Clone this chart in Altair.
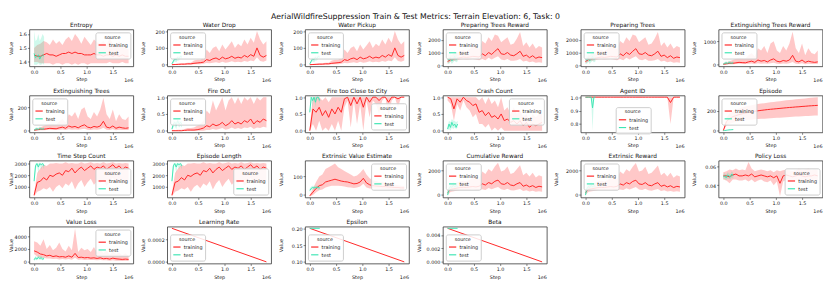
import altair as alt
import pandas as pd

FONT = "DejaVu Sans"
RED = "#ff2424"
TEAL = "#3ee6b4"
W, H = 107, 38
XDOM = [-0.09, 1.89]
SOURCES = ["training", "test"]

# ---------------- data (steps in units of 1e6) ----------------
STEP_TRAIN = [0.0, 0.06, 0.12, 0.18, 0.24, 0.30, 0.36, 0.42, 0.48, 0.54, 0.60, 0.66, 0.72, 0.78, 0.84, 0.90,
              0.96, 1.02, 1.08, 1.14, 1.20, 1.26, 1.32, 1.38, 1.44, 1.50, 1.56, 1.62, 1.68, 1.74, 1.80]
STEP_TEST = [0.0, 0.027, 0.054, 0.081, 0.108, 0.135, 0.162, 0.19]
STEP_LIN = [0.0, 1.8]
STEP_TEST_LIN = [0.0, 0.19]

ENT_TR = [1.45, 1.44, 1.44, 1.45, 1.46, 1.45, 1.45, 1.44, 1.45, 1.46, 1.46, 1.47, 1.46, 1.47, 1.46, 1.46, 1.45, 1.45, 1.45, 1.46, 1.45, 1.45, 1.44, 1.45, 1.45, 1.44, 1.45, 1.44, 1.45, 1.44, 1.44]
ENT_TR_LO = [1.40, 1.40, 1.39, 1.39, 1.39, 1.39, 1.38, 1.39, 1.39, 1.38, 1.39, 1.39, 1.38, 1.39, 1.38, 1.39, 1.39, 1.38, 1.39, 1.39, 1.39, 1.39, 1.39, 1.39, 1.40, 1.39, 1.39, 1.39, 1.40, 1.39, 1.39]
ENT_TR_HI = [1.50, 1.52, 1.53, 1.55, 1.54, 1.52, 1.56, 1.53, 1.55, 1.52, 1.56, 1.58, 1.55, 1.60, 1.57, 1.53, 1.58, 1.55, 1.52, 1.56, 1.54, 1.53, 1.55, 1.52, 1.57, 1.53, 1.50, 1.55, 1.51, 1.50, 1.49]
ENT_TE = [1.46, 1.43, 1.44, 1.45, 1.42, 1.44, 1.45, 1.44]
ENT_TE_LO = [1.38, 1.38, 1.38, 1.39, 1.38, 1.38, 1.39, 1.38]
ENT_TE_HI = [1.62, 1.55, 1.56, 1.60, 1.55, 1.57, 1.60, 1.58]

WATER_TR = [0, 1, 2, 3, 3, 5, 5, 8, 10, 12, 15, 30, 25, 35, 40, 30, 45, 35, 40, 50, 38, 45, 40, 55, 45, 60, 50, 100, 55, 45, 55]
WATER_TR_LO = [0, 0, 0, 0, 0, 0, 0, 2, 3, 3, 5, 10, 8, 12, 15, 10, 18, 12, 15, 20, 15, 18, 15, 22, 18, 25, 20, 45, 22, 18, 25]
WATER_TR_HI = [3, 4, 6, 8, 8, 12, 12, 25, 30, 30, 40, 90, 70, 100, 110, 80, 120, 90, 115, 140, 100, 125, 110, 150, 120, 160, 130, 200, 150, 120, 140]
WATER_TE = [5, 20, 35, 30, 45, 35, 50, 45]
WATER_TE_LO = [0, 10, 20, 15, 25, 25, 35, 35]
WATER_TE_HI = [10, 30, 45, 45, 55, 50, 60, 55]

PREP_TR = [300, 450, 500, 550, 600, 650, 620, 650, 700, 680, 650, 900, 750, 1000, 850, 1100, 1300, 900, 850, 1000, 800, 750, 900, 1100, 700, 800, 600, 750, 550, 650, 600]
PREP_TR_LO = [150, 300, 350, 400, 450, 480, 450, 480, 500, 450, 400, 500, 400, 600, 450, 600, 700, 450, 400, 500, 350, 350, 400, 500, 300, 350, 250, 300, 200, 250, 200]
PREP_TR_HI = [500, 800, 900, 1000, 1100, 1200, 1100, 1300, 1500, 1400, 1300, 1900, 1700, 2200, 1900, 2400, 2300, 1800, 2000, 2200, 1600, 1700, 2100, 2600, 1500, 1800, 1400, 1700, 1300, 1500, 1400]
PREP_TE = [500, 400, 600, 350, 500, 700, 450, 600]
PREP_TE_LO = [150, 100, 300, 100, 250, 350, 250, 300]
PREP_TE_HI = [900, 800, 1000, 700, 900, 1200, 900, 1000]

EXTR_TR = [20, 40, 60, 60, 80, 100, 90, 80, 120, 150, 100, 200, 150, 180, 120, 200, 250, 150, 120, 180, 150, 200, 400, 150, 120, 200, 100, 150, 120, 100, 120]
EXTR_TR_LO = [0, 10, 20, 20, 30, 40, 30, 30, 40, 50, 30, 60, 40, 50, 40, 60, 80, 40, 30, 50, 40, 60, 120, 40, 30, 60, 20, 40, 30, 30, 30]
EXTR_TR_HI = [60, 100, 150, 200, 250, 300, 280, 250, 400, 500, 350, 700, 600, 800, 500, 900, 1000, 600, 500, 800, 600, 900, 1400, 700, 500, 900, 400, 700, 500, 450, 600]
EXTR_TE = [20, 60, 80, 50, 90, 70, 60, 80]
EXTR_TE_LO = [0, 20, 30, 20, 40, 30, 30, 30]
EXTR_TE_HI = [50, 120, 150, 100, 180, 140, 120, 160]

EXT_TR = [4, 8, 12, 12, 16, 20, 18, 16, 24, 30, 20, 40, 30, 36, 24, 40, 50, 30, 24, 36, 30, 40, 80, 30, 24, 40, 20, 30, 24, 20, 24]
EXT_TR_LO = [0, 2, 4, 4, 6, 8, 6, 6, 8, 10, 6, 12, 8, 10, 8, 12, 16, 8, 6, 10, 8, 12, 24, 8, 6, 12, 4, 8, 6, 6, 6]
EXT_TR_HI = [12, 20, 30, 40, 50, 60, 56, 50, 80, 100, 70, 140, 120, 160, 100, 180, 200, 120, 100, 160, 120, 180, 280, 140, 100, 180, 80, 140, 100, 90, 120]
EXT_TE = [4, 12, 16, 10, 18, 14, 12, 16]
EXT_TE_LO = [0, 4, 6, 4, 8, 6, 6, 6]
EXT_TE_HI = [10, 24, 30, 20, 36, 28, 24, 32]

FIRE_TR = [0, 0, 0, 0, 0.01, 0.02, 0.02, 0.02, 0.03, 0.05, 0.08, 0.15, 0.12, 0.2, 0.15, 0.18, 0.25, 0.15, 0.2, 0.3, 0.2, 0.25, 0.2, 0.3, 0.25, 0.35, 0.2, 0.3, 0.25, 0.35, 0.3]
FIRE_TR_LO = [0, 0, 0, 0, 0, 0, 0, 0, 0, 0, 0, 0.02, 0.02, 0.05, 0.03, 0.05, 0.08, 0.03, 0.05, 0.1, 0.05, 0.08, 0.05, 0.1, 0.08, 0.12, 0.05, 0.1, 0.08, 0.12, 0.1]
FIRE_TR_HI = [0.02, 0.02, 0.03, 0.03, 0.05, 0.08, 0.08, 0.1, 0.15, 0.2, 0.3, 0.6, 0.5, 0.9, 0.6, 0.8, 1.0, 0.6, 0.9, 1.0, 0.8, 1.0, 0.8, 1.0, 0.9, 1.0, 0.8, 1.0, 0.9, 1.0, 1.0]
FIRE_TE = [0.05, 0.2, 0.25, 0.15, 0.3, 0.2, 0.25, 0.2]
FIRE_TE_LO = [0, 0.1, 0.15, 0.05, 0.2, 0.1, 0.15, 0.1]
FIRE_TE_HI = [0.1, 0.3, 0.3, 0.25, 0.35, 0.3, 0.3, 0.3]

CITY_TR = [0.0, 0.65, 0.55, 0.7, 0.45, 0.6, 0.4, 0.65, 0.5, 0.7, 0.55, 0.95, 1.0, 0.75, 1.0, 0.8, 1.0, 0.7, 1.0, 0.85, 1.0, 1.0, 0.9, 1.0, 1.0, 0.85, 1.0, 1.0, 0.95, 1.0, 1.0]
CITY_TR_LO = [0.0, 0.2, 0.0, 0.3, 0.0, 0.1, 0.0, 0.2, 0.0, 0.3, 0.0, 0.7, 0.9, 0.1, 0.9, 0.2, 0.8, 0.0, 0.9, 0.4, 0.9, 0.8, 0.5, 0.9, 1.0, 0.4, 0.9, 1.0, 0.7, 1.0, 1.0]
CITY_TR_HI = [0.1, 1.0, 1.0, 1.0, 0.9, 1.0, 0.85, 1.0, 1.0, 1.0, 1.0, 1.0, 1.0, 1.0, 1.0, 1.0, 1.0, 1.0, 1.0, 1.0, 1.0, 1.0, 1.0, 1.0, 1.0, 1.0, 1.0, 1.0, 1.0, 1.0, 1.0]
CITY_TE = [0.55, 1.0, 0.9, 1.0, 0.85, 1.0, 1.0, 0.9]
CITY_TE_LO = [0.5, 0.9, 0.7, 1.0, 0.7, 1.0, 0.9, 0.8]
CITY_TE_HI = [0.6, 1.0, 1.0, 1.0, 1.0, 1.0, 1.0, 1.0]

CRASH_TR = [1.0, 0.95, 0.65, 0.95, 0.85, 1.0, 0.9, 0.85, 0.75, 0.8, 0.55, 0.6, 0.45, 0.55, 0.4, 0.45, 0.35, 0.5, 0.3, 0.35, 0.25, 0.3, 0.2, 0.3, 0.15, 0.25, 0.1, 0.2, 0.15, 0.2, 0.25]
CRASH_TR_LO = [0.9, 0.8, 0.3, 0.8, 0.6, 0.9, 0.7, 0.6, 0.4, 0.5, 0.2, 0.2, 0.1, 0.2, 0.0, 0.1, 0.0, 0.1, 0.0, 0.0, 0.0, 0.0, 0.0, 0.0, 0.0, 0.0, 0.0, 0.0, 0.0, 0.0, 0.0]
CRASH_TR_HI = [1.0, 1.0, 1.0, 1.0, 1.0, 1.0, 1.0, 1.0, 1.0, 1.0, 0.9, 1.0, 0.8, 1.0, 0.8, 0.9, 0.7, 1.0, 0.6, 0.7, 0.5, 0.7, 0.5, 0.6, 0.4, 0.5, 0.3, 0.5, 0.4, 0.5, 0.5]
CRASH_TE = [0.05, 0.2, 0.1, 0.25, 0.15, 0.2, 0.1, 0.2]
CRASH_TE_LO = [0.0, 0.05, 0.0, 0.1, 0.05, 0.1, 0.05, 0.1]
CRASH_TE_HI = [0.15, 0.3, 0.25, 0.35, 0.3, 0.3, 0.25, 0.3]

AGENT_TR = [1.0, 1.0, 1.0, 1.0, 1.0, 1.0, 1.0, 1.0, 1.0, 1.0, 1.0, 1.0, 1.0, 1.0, 1.0, 1.0, 1.0, 1.0, 1.0, 1.0, 1.0, 1.0, 1.0, 1.0, 1.0, 1.0, 1.0, 0.96, 1.0, 1.0, 1.0]
AGENT_TR_LO = [1.0, 1.0, 1.0, 1.0, 1.0, 1.0, 1.0, 1.0, 1.0, 1.0, 1.0, 1.0, 1.0, 1.0, 1.0, 1.0, 1.0, 1.0, 1.0, 1.0, 1.0, 1.0, 1.0, 1.0, 1.0, 1.0, 1.0, 0.80, 1.0, 1.0, 1.0]
AGENT_TR_HI = [1.0, 1.0, 1.0, 1.0, 1.0, 1.0, 1.0, 1.0, 1.0, 1.0, 1.0, 1.0, 1.0, 1.0, 1.0, 1.0, 1.0, 1.0, 1.0, 1.0, 1.0, 1.0, 1.0, 1.0, 1.0, 1.0, 1.0, 1.0, 1.0, 1.0, 1.0]
AGENT_TE = [1.0, 1.0, 1.0, 1.0, 1.0, 0.92, 1.0, 1.0]
AGENT_TE_LO = [1.0, 1.0, 1.0, 1.0, 1.0, 0.75, 1.0, 1.0]
AGENT_TE_HI = [1.0, 1.0, 1.0, 1.0, 1.0, 1.0, 1.0, 1.0]

EPI_TR = [0, 90, 120, 140, 150, 160, 168, 175, 182, 188, 193, 198, 202, 206, 210, 213, 216, 219, 222, 225, 228, 231, 233, 236, 238, 241, 243, 246, 248, 250, 252]
EPI_TR_LO = [0, 50, 70, 80, 90, 95, 100, 104, 108, 110, 113, 116, 118, 120, 122, 124, 126, 128, 130, 132, 134, 136, 138, 140, 141, 143, 145, 146, 148, 150, 152]
EPI_TR_HI = [0, 130, 170, 195, 210, 222, 232, 240, 248, 254, 260, 265, 270, 274, 278, 282, 286, 290, 294, 298, 302, 306, 309, 312, 315, 318, 321, 324, 327, 330, 333]
EPI_TE = [0, 2, 4, 6, 8, 9, 10, 11]
EPI_TE_LO = [0, 1, 3, 5, 6, 7, 8, 9]
EPI_TE_HI = [0, 3, 5, 7, 9, 11, 12, 13]

TSC_TR = [300, 1400, 1500, 1800, 1600, 2000, 1900, 2100, 2200, 2000, 2400, 2300, 2600, 2200, 2500, 2700, 2400, 2600, 2800, 2500, 2700, 2600, 2800, 2500, 2700, 2900, 2600, 2800, 2500, 2700, 2600]
TSC_TR_LO = [200, 600, 700, 900, 800, 1000, 600, 1000, 1200, 900, 1300, 1100, 1500, 800, 1300, 1600, 1000, 1400, 1700, 1200, 1500, 1300, 1600, 1100, 1400, 1800, 1300, 1600, 1200, 1500, 1400]
TSC_TR_HI = [500, 2200, 2600, 2900, 2800, 3000, 3000, 3050, 3000, 3000, 3100, 3000, 3050, 3000, 3000, 3100, 3000, 3050, 3100, 3000, 3050, 3000, 3100, 3000, 3050, 3100, 3000, 3050, 3000, 3050, 3000]
TSC_TE = [1500, 2800, 3000, 2700, 3000, 2900, 3000, 2800]
TSC_TE_LO = [1200, 2400, 2900, 2200, 2900, 2500, 2800, 2500]
TSC_TE_HI = [2000, 3000, 3000, 3000, 3000, 3000, 3000, 3000]

EVE_TR = [-5, 15, 35, 50, 55, 70, 75, 80, 85, 80, 75, 72, 70, 65, 60, 62, 70, 90, 65, 55, 50, 48, 47, 45, 45, 43, 42, 40, 40, 38, 38]
EVE_TR_LO = [-8, 0, 15, 25, 30, 40, 45, 50, 50, 50, 48, 45, 42, 40, 38, 40, 45, 60, 40, 35, 35, 33, 33, 32, 32, 30, 30, 30, 30, 28, 28]
EVE_TR_HI = [0, 35, 70, 100, 110, 140, 150, 160, 170, 150, 140, 130, 120, 110, 100, 105, 120, 140, 110, 90, 80, 75, 70, 68, 65, 62, 60, 55, 52, 50, 48]
EVE_TE = [25, 35, 40, 38, 40, 42, 40, 38]
EVE_TE_LO = [15, 25, 30, 30, 30, 35, 30, 30]
EVE_TE_HI = [35, 45, 50, 48, 50, 50, 48, 45]

CUM_TR = [200, 450, 500, 550, 600, 620, 600, 650, 680, 650, 700, 900, 800, 1000, 900, 1100, 1200, 900, 850, 1000, 800, 750, 900, 1000, 700, 800, 650, 750, 600, 700, 650]
CUM_TR_LO = [0, 250, 300, 350, 400, 420, 400, 420, 450, 400, 400, 450, 400, 550, 450, 550, 650, 450, 400, 500, 380, 350, 420, 480, 320, 380, 280, 330, 250, 300, 250]
CUM_TR_HI = [400, 800, 900, 1000, 1100, 1150, 1100, 1200, 1400, 1300, 1300, 1900, 1700, 2100, 1900, 2300, 2600, 1900, 2000, 2300, 1700, 1800, 2100, 2400, 1600, 1800, 1500, 1800, 1400, 1600, 1500]
CUM_TE = [0, 500, 700, 600, 800, 650, 750, 700]
CUM_TE_LO = [-200, 200, 400, 300, 500, 400, 450, 400]
CUM_TE_HI = [300, 900, 1000, 900, 1100, 900, 1000, 1000]

POL_TR = [0.050, 0.050, 0.049, 0.051, 0.052, 0.050, 0.050, 0.051, 0.050, 0.052, 0.049, 0.050, 0.051, 0.050, 0.049, 0.050, 0.048, 0.050, 0.042, 0.050, 0.051, 0.050, 0.049, 0.050, 0.051, 0.050, 0.049, 0.050, 0.050, 0.051, 0.050]
POL_TR_LO = [0.046, 0.045, 0.042, 0.046, 0.046, 0.045, 0.045, 0.046, 0.044, 0.046, 0.043, 0.045, 0.046, 0.044, 0.043, 0.045, 0.040, 0.044, 0.028, 0.044, 0.046, 0.045, 0.044, 0.045, 0.046, 0.045, 0.044, 0.045, 0.045, 0.046, 0.045]
POL_TR_HI = [0.054, 0.055, 0.057, 0.056, 0.058, 0.056, 0.057, 0.056, 0.065, 0.058, 0.055, 0.056, 0.057, 0.056, 0.055, 0.056, 0.054, 0.056, 0.055, 0.056, 0.057, 0.056, 0.055, 0.056, 0.058, 0.056, 0.057, 0.058, 0.056, 0.057, 0.056]
POL_TE = [0.049, 0.050, 0.048, 0.051, 0.050, 0.049, 0.052, 0.050]
POL_TE_LO = [0.046, 0.047, 0.045, 0.047, 0.047, 0.046, 0.048, 0.047]
POL_TE_HI = [0.052, 0.053, 0.051, 0.054, 0.053, 0.052, 0.055, 0.053]

VL_TR = [1700, 1500, 1200, 1100, 900, 1000, 800, 900, 750, 800, 700, 900, 700, 1300, 650, 700, 600, 650, 550, 600, 500, 600, 450, 500, 400, 550, 450, 400, 350, 400, 350]
VL_TR_LO = [1200, 800, 600, 600, 500, 500, 400, 450, 350, 400, 350, 400, 300, 600, 300, 350, 250, 300, 250, 250, 200, 250, 200, 200, 150, 200, 150, 150, 100, 150, 100]
VL_TR_HI = [3200, 3000, 2500, 3500, 2000, 2600, 1800, 2200, 3000, 2000, 1600, 2500, 1800, 5200, 1500, 2200, 1800, 2000, 1500, 2300, 1400, 2000, 1300, 1800, 1100, 1600, 1200, 1400, 1000, 1300, 900]
VL_TE = [300, 600, 400, 700, 500, 600, 400, 500]
VL_TE_LO = [100, 300, 200, 400, 300, 300, 200, 300]
VL_TE_HI = [500, 900, 700, 1000, 800, 900, 700, 800]

LR_TR = [0.0003, 0.0]
EPS_TR = [0.2, 0.1]
EPS_TE = [0.2, 0.2]
BETA_TR = [0.005, 0.0]
BETA_TE = [0.005, 0.005]

TITLE = "AerialWildfireSuppression Train & Test Metrics: Terrain Elevation: 6, Task: 0"

PANELS = [
    dict(t="Entropy", tr=(STEP_TRAIN, ENT_TR, ENT_TR_LO, ENT_TR_HI), te=(STEP_TEST, ENT_TE, ENT_TE_LO, ENT_TE_HI),
         dom=[1.368, 1.632], ticks=[1.4, 1.5, 1.6], fmt=".1f", leg="top-right"),
    dict(t="Water Drop", tr=(STEP_TRAIN, WATER_TR, WATER_TR_LO, WATER_TR_HI), te=(STEP_TEST, WATER_TE, WATER_TE_LO, WATER_TE_HI),
         dom=[-10, 210], ticks=[0, 100, 200], fmt="d", leg="top-left"),
    dict(t="Water Pickup", tr=(STEP_TRAIN, WATER_TR, WATER_TR_LO, WATER_TR_HI), te=(STEP_TEST, WATER_TE, WATER_TE_LO, WATER_TE_HI),
         dom=[-10, 210], ticks=[0, 100, 200], fmt="d", leg="top-left"),
    dict(t="Preparing Trees Reward", tr=(STEP_TRAIN, PREP_TR, PREP_TR_LO, PREP_TR_HI), te=(STEP_TEST, PREP_TE, PREP_TE_LO, PREP_TE_HI),
         dom=[-80, 2800], ticks=[0, 1000, 2000], fmt="d", leg="top-left"),
    dict(t="Preparing Trees", tr=(STEP_TRAIN, PREP_TR, PREP_TR_LO, PREP_TR_HI), te=(STEP_TEST, PREP_TE, PREP_TE_LO, PREP_TE_HI),
         dom=[-80, 2800], ticks=[0, 1000, 2000], fmt="d", leg="top-left"),
    dict(t="Extinguishing Trees Reward", tr=(STEP_TRAIN, EXTR_TR, EXTR_TR_LO, EXTR_TR_HI), te=(STEP_TEST, EXTR_TE, EXTR_TE_LO, EXTR_TE_HI),
         dom=[-70, 1500], ticks=[0, 1000], fmt="d", leg="top-left"),
    dict(t="Extinguishing Trees", tr=(STEP_TRAIN, EXT_TR, EXT_TR_LO, EXT_TR_HI), te=(STEP_TEST, EXT_TE, EXT_TE_LO, EXT_TE_HI),
         dom=[-15, 300], ticks=[0, 200], fmt="d", leg="top-left"),
    dict(t="Fire Out", tr=(STEP_TRAIN, FIRE_TR, FIRE_TR_LO, FIRE_TR_HI), te=(STEP_TEST, FIRE_TE, FIRE_TE_LO, FIRE_TE_HI),
         dom=[-0.05, 1.05], ticks=[0, 0.5, 1.0], fmt=".1f", leg="top-left"),
    dict(t="Fire too Close to City", tr=(STEP_TRAIN, CITY_TR, CITY_TR_LO, CITY_TR_HI), te=(STEP_TEST, CITY_TE, CITY_TE_LO, CITY_TE_HI),
         dom=[-0.05, 1.05], ticks=[0, 0.5, 1.0], fmt=".1f", leg="bottom-right"),
    dict(t="Crash Count", tr=(STEP_TRAIN, CRASH_TR, CRASH_TR_LO, CRASH_TR_HI), te=(STEP_TEST, CRASH_TE, CRASH_TE_LO, CRASH_TE_HI),
         dom=[-0.05, 1.05], ticks=[0, 0.5, 1.0], fmt=".1f", leg="top-right"),
    dict(t="Agent ID", tr=(STEP_TRAIN, AGENT_TR, AGENT_TR_LO, AGENT_TR_HI), te=(STEP_TEST, AGENT_TE, AGENT_TE_LO, AGENT_TE_HI),
         dom=[0.7375, 1.0125], ticks=[0.8, 0.9, 1.0], fmt=".1f", leg="none"),
    dict(t="Episode", tr=(STEP_TRAIN, EPI_TR, EPI_TR_LO, EPI_TR_HI), te=(STEP_TEST, EPI_TE, EPI_TE_LO, EPI_TE_HI),
         dom=[-17, 350], ticks=[0, 200], fmt="d", leg="top-left"),
    dict(t="Time Step Count", tr=(STEP_TRAIN, TSC_TR, TSC_TR_LO, TSC_TR_HI), te=(STEP_TEST, TSC_TE, TSC_TE_LO, TSC_TE_HI),
         dom=[110, 3250], ticks=[1000, 2000, 3000], fmt="d", leg="bottom-right"),
    dict(t="Episode Length", tr=(STEP_TRAIN, TSC_TR, TSC_TR_LO, TSC_TR_HI), te=(STEP_TEST, TSC_TE, TSC_TE_LO, TSC_TE_HI),
         dom=[110, 3250], ticks=[1000, 2000, 3000], fmt="d", leg="bottom-right"),
    dict(t="Extrinsic Value Estimate", tr=(STEP_TRAIN, EVE_TR, EVE_TR_LO, EVE_TR_HI), te=(STEP_TEST, EVE_TE, EVE_TE_LO, EVE_TE_HI),
         dom=[-14, 186], ticks=[0, 100], fmt="d", leg="top-right"),
    dict(t="Cumulative Reward", tr=(STEP_TRAIN, CUM_TR, CUM_TR_LO, CUM_TR_HI), te=(STEP_TEST, CUM_TE, CUM_TE_LO, CUM_TE_HI),
         dom=[-210, 2780], ticks=[0, 2000], fmt="d", leg="top-left"),
    dict(t="Extrinsic Reward", tr=(STEP_TRAIN, CUM_TR, CUM_TR_LO, CUM_TR_HI), te=(STEP_TEST, CUM_TE, CUM_TE_LO, CUM_TE_HI),
         dom=[-210, 2800], ticks=[0, 2000], fmt="d", leg="top-left"),
    dict(t="Policy Loss", tr=(STEP_TRAIN, POL_TR, POL_TR_LO, POL_TR_HI), te=(STEP_TEST, POL_TE, POL_TE_LO, POL_TE_HI),
         dom=[0.0266, 0.0666], ticks=[0.04, 0.06], fmt=".2f", leg="bottom-right"),
    dict(t="Value Loss", tr=(STEP_TRAIN, VL_TR, VL_TR_LO, VL_TR_HI), te=(STEP_TEST, VL_TE, VL_TE_LO, VL_TE_HI),
         dom=[-300, 5500], ticks=[0, 2000, 4000], fmt="d", leg="top-right"),
    dict(t="Learning Rate", tr=(STEP_LIN, LR_TR, LR_TR, LR_TR), te=([], [], [], []),
         dom=[-0.000015, 0.000315], ticks=[0.0, 0.0002], fmt=".4f", leg="bottom-left"),
    dict(t="Epsilon", tr=(STEP_LIN, EPS_TR, EPS_TR, EPS_TR), te=(STEP_TEST_LIN, EPS_TE, EPS_TE, EPS_TE),
         dom=[0.095, 0.205], ticks=[0.10, 0.15, 0.20], fmt=".2f", leg="bottom-left"),
    dict(t="Beta", tr=(STEP_LIN, BETA_TR, BETA_TR, BETA_TR), te=(STEP_TEST_LIN, BETA_TE, BETA_TE, BETA_TE),
         dom=[-0.00025, 0.00525], ticks=[0.0, 0.002, 0.004], fmt=".3f", leg="bottom-left"),
]


def make_panel(p, col):
    rows = []
    for src, (xs, m, lo, hi) in (("training", p["tr"]), ("test", p["te"])):
        for x, a, b, c in zip(xs, m, lo, hi):
            rows.append({"step": x, "value": a, "lo": b, "hi": c, "source": src})
    df = pd.DataFrame(rows, columns=["step", "value", "lo", "hi", "source"])
    ext = 15 if col == 0 else 21
    xsc = alt.Scale(domain=XDOM, nice=False, zero=False)
    ysc = alt.Scale(domain=p["dom"], nice=False, zero=False)
    xax = alt.Axis(values=[0.0, 0.5, 1.0, 1.5], format=".1f", title="Step", titlePadding=3)
    yax = alt.Axis(values=p["ticks"], format=p["fmt"], title="Value", minExtent=ext, maxExtent=ext)
    cscale = alt.Scale(domain=SOURCES, range=[RED, TEAL])

    if p["leg"] == "none":
        leg = alt.Legend(title="source", orient="none", legendX=36, legendY=12)
    else:
        leg = alt.Legend(title="source", orient=p["leg"])

    base = alt.Chart(df)
    bands = []
    for src, colr in (("training", RED), ("test", TEAL)):
        bands.append(
            base.transform_filter(alt.datum.source == src).mark_area(
                color=colr, opacity=0.25, strokeWidth=0, clip=True
            ).encode(
                x=alt.X("step:Q", scale=xsc, axis=xax),
                y=alt.Y("lo:Q", scale=ysc, axis=yax),
                y2="hi:Q",
            )
        )
    line = base.mark_line(strokeWidth=1.0, clip=True).encode(
        x=alt.X("step:Q", scale=xsc, axis=xax),
        y=alt.Y("value:Q", scale=ysc, axis=yax),
        color=alt.Color("source:N", scale=cscale, legend=leg),
    )
    note = alt.Chart(pd.DataFrame({"t": ["1e6"]})).mark_text(
        align="right", baseline="middle", fontSize=5, font=FONT, color="#222"
    ).encode(text="t:N", x=alt.value(W), y=alt.value(H + 14))
    return alt.layer(bands[0], bands[1], line, note).properties(
        width=W, height=H,
        title=alt.TitleParams(p["t"], fontSize=6, font=FONT, fontWeight="normal", offset=1.5,
                              frame="group", anchor="middle", color="#111"),
    )


panels = [make_panel(p, i % 6) for i, p in enumerate(PANELS)]

chart = alt.concat(
    *panels, columns=6, spacing={"row": 3, "column": 5.9}, align="each",
    title=alt.TitleParams(TITLE, fontSize=8, font=FONT, fontWeight="normal", anchor="middle", offset=1, color="#111"),
).resolve_scale(
    x="independent", y="independent", color="independent"
).resolve_legend(
    color="independent"
).properties(
    padding=0
).configure_view(
    stroke="#333", strokeWidth=0.8
).configure_axis(
    labelFont=FONT, labelFontSize=5, labelColor="#222", labelPadding=1,
    titleFont=FONT, titleFontSize=5, titleFontWeight="normal", titleColor="#222", titlePadding=1.5,
    tickSize=2, tickWidth=0.6, tickColor="#333", domain=False, grid=False,
).configure_legend(
    titleFont=FONT, titleFontSize=5, titleFontWeight="normal", titleAnchor="middle", titleColor="#222",
    titlePadding=1, titleLineHeight=5,
    labelFont=FONT, labelFontSize=5, labelColor="#222", labelOffset=2.5,
    symbolType="stroke", symbolSize=56, symbolStrokeWidth=1.2,
    rowPadding=0, padding=2.5, offset=3,
    fillColor="rgba(255,255,255,0.85)", strokeColor="#cccccc", cornerRadius=2,
)

chart.save("out.html", embed_options={"renderer": "svg", "actions": False})
